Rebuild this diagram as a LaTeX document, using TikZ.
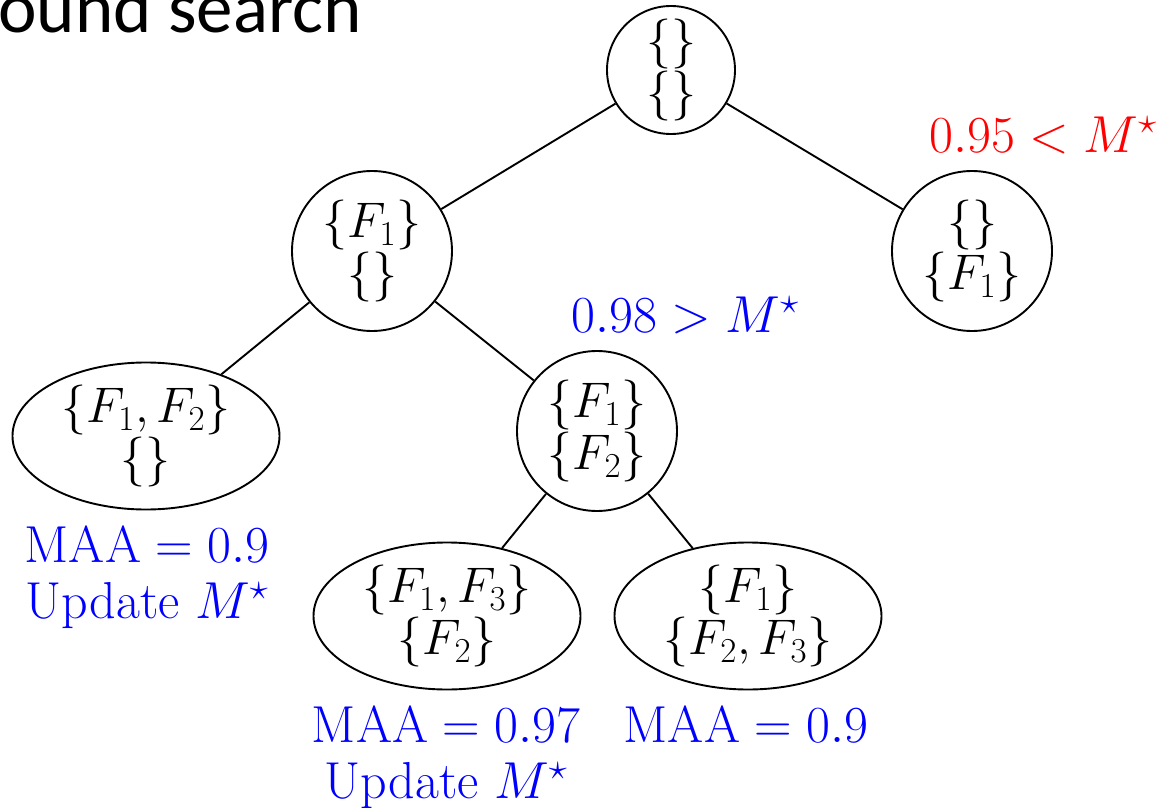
\RequirePackage{fix-cm}
\documentclass[tikz,border=0pt]{standalone}
\usepackage{fontspec}
\newfontfamily\titlefont{Carlito}
\usetikzlibrary{shapes.geometric}
\tikzset{
  every picture/.style={x=1pt,y=-1pt},
  tnode/.style={draw,line width=1.9pt,inner sep=0pt,align=center,
     font=\fontsize{50}{52}\selectfont},
  cnode/.style={tnode,circle,minimum size=160pt},
  enode/.style={tnode,ellipse,minimum width=267pt,minimum height=147pt},
  edge/.style={line width=1.9pt},
  lbl/.style={anchor=base,inner sep=0pt,font=\fontsize{52}{56}\selectfont},
}
\begin{document}
\begin{tikzpicture}
\useasboundingbox (0,0) rectangle (1168,808);
\node[anchor=base east,inner sep=0pt,font=\titlefont\fontsize{73}{80}\selectfont] (title) at (362,33) {ound search};

\node[cnode,minimum size=128pt] (root) at (671,70) {$\{\}$\\$\{\}$};
\node[cnode] (a) at (372,251) {$\{F_1\}$\\$\{\}$};
\node[cnode] (b) at (972,251) {$\{\}$\\$\{F_1\}$};
\node[enode] (c) at (146,436) {$\{F_1,F_2\}$\\$\{\}$};
\node[cnode] (d) at (597,431) {$\{F_1\}$\\$\{F_2\}$};
\node[enode] (e) at (447,616) {$\{F_1,F_3\}$\\$\{F_2\}$};
\node[enode] (f) at (748,616) {$\{F_1\}$\\$\{F_2,F_3\}$};

\draw[edge] (root) -- (a);
\draw[edge] (root) -- (b);
\draw[edge] (a) -- (c);
\draw[edge] (a) -- (d);
\draw[edge] (d) -- (e);
\draw[edge] (d) -- (f);

\node[lbl,red] (lb) at (1043,152) {$0.95<M^\star$};
\node[lbl,blue] (ld) at (685,332) {$0.98>M^\star$};
\node[lbl,blue] (lc1) at (147,562) {$\mathrm{MAA}=0.9$};
\node[lbl,blue] (lc2) at (147,618) {Update $M^\star$};
\node[lbl,blue] (le1) at (446,742) {$\mathrm{MAA}=0.97$};
\node[lbl,blue] (le2) at (446,798) {Update $M^\star$};
\node[lbl,blue] (lf1) at (746,742) {$\mathrm{MAA}=0.9$};
\end{tikzpicture}
\end{document}
